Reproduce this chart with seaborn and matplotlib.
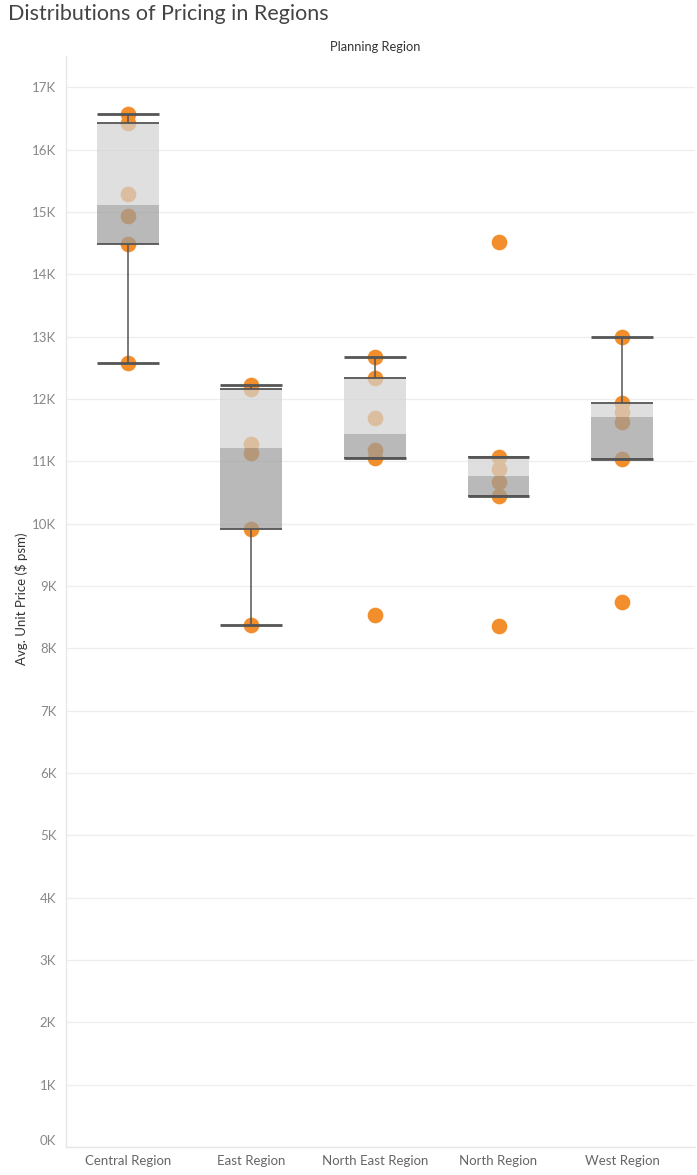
import numpy as np
import pandas as pd
import matplotlib
matplotlib.use("Agg")
import matplotlib.pyplot as plt
import seaborn as sns
from matplotlib.ticker import FuncFormatter, FixedLocator

# values (Avg. Unit Price, $ psm)
regions = ["Central Region", "East Region", "North East Region", "North Region", "West Region"]
central = [16570, 16430, 15290, 14940, 14490, 12580]
east = [12230, 12160, 11280, 11140, 9920, 8370]
north_east = [12670, 12330, 11700, 11180, 11050, 8530]
north = [14520, 11060, 10870, 10670, 10440, 8350]
west = [13000, 11940, 11790, 11630, 11040, 8740]
yticks = list(range(0, 17001, 1000))

df = pd.DataFrame({
    "region": np.repeat(regions, 6),
    "price": central + east + north_east + north + west,
})

ORANGE = "#f28e2b"
LINE = "#555555"

sns.set_theme(style="white")
plt.rcParams["font.family"] = ["Lato", "DejaVu Sans"]

fig = plt.figure(figsize=(6.97, 11.75), dpi=100)
W, H = 697, 1175
ax = fig.add_axes([66 / W, (H - 1147) / H, (695 - 66) / W, (1147 - 56) / H])

# points first, box drawn over them semi-transparent
sns.stripplot(data=df, x="region", y="price", order=regions, jitter=False,
              color=ORANGE, size=11.3, linewidth=0, ax=ax, zorder=2)


def hinges(vals):
    v = np.sort(np.asarray(vals, dtype=float))
    n = len(v)
    q1 = np.median(v[:(n + 1) // 2])
    q3 = np.median(v[n // 2:])
    med = np.median(v)
    iqr = q3 - q1
    lo = v[v >= q1 - 1.5 * iqr].min()
    hi = v[v <= q3 + 1.5 * iqr].max()
    return lo, q1, med, q3, hi


bw = 0.5
for i, r in enumerate(regions):
    lo, q1, med, q3, hi = hinges(df.loc[df.region == r, "price"])
    ax.bar(i, q3 - med, bottom=med, width=bw, color="#d2d2d2", alpha=0.7,
           linewidth=0, zorder=3)
    ax.bar(i, med - q1, bottom=q1, width=bw, color="#9c9c9c", alpha=0.7,
           linewidth=0, zorder=3)
    ax.vlines(i, q3, hi, color=LINE, lw=1.1, zorder=4)
    ax.vlines(i, lo, q1, color=LINE, lw=1.1, zorder=4)
    ax.hlines([q1, q3], i - bw / 2, i + bw / 2, color=LINE, lw=1.3, zorder=4)
    ax.hlines([lo, hi], i - bw / 2, i + bw / 2, color=LINE, lw=2.0, zorder=4)

ax.set_xlim(-0.5, len(regions) - 0.41)
ax.set_ylim(0, 17500)
ax.yaxis.set_major_locator(FixedLocator(yticks))
ax.yaxis.set_major_formatter(FuncFormatter(lambda v, p: f"{int(round(v / 1000))}K"))
ax.yaxis.grid(True, color="#eeeeee", lw=0.9)
ax.set_axisbelow(True)
ax.set_xlabel("")
ax.set_ylabel("")

ax.set_xticks(range(len(regions)))
ax.set_xticklabels(regions)
ax.set_xticks(np.arange(0.5, len(regions) - 1, 1.0), minor=True)
ax.tick_params(axis="x", which="major", length=0, pad=6, labelsize=9.5, labelcolor="#666666")
ax.tick_params(axis="x", which="minor", length=4, width=0.9, color="#e4e4e4")
ax.tick_params(axis="y", which="major", length=5, width=0.9, color="#eeeeee",
               pad=2, labelsize=9.5, labelcolor="#888888")

for s in ["top", "right"]:
    ax.spines[s].set_visible(False)
for s in ["left", "bottom"]:
    ax.spines[s].set_color("#e6e6e6")
    ax.spines[s].set_linewidth(0.9)

# Tableau keeps the 0K label inside the pane
fig.canvas.draw()
ax.get_yticklabels()[0].set_va("bottom")

fig.text(8 / W, 1 - 14 / H, "Distributions of Pricing in Regions", fontsize=15.5,
         color="#444444", ha="left", va="center")
fig.text(375.5 / W, 1 - 47 / H, "Planning Region", fontsize=9.3, color="#333333",
         ha="center", va="center")
fig.text(22 / W, 1 - 599 / H, "Avg. Unit Price ($ psm)", fontsize=9.5, color="#333333",
         rotation=90, ha="center", va="center")

fig.savefig("out.png", dpi=100)
plt.close(fig)
